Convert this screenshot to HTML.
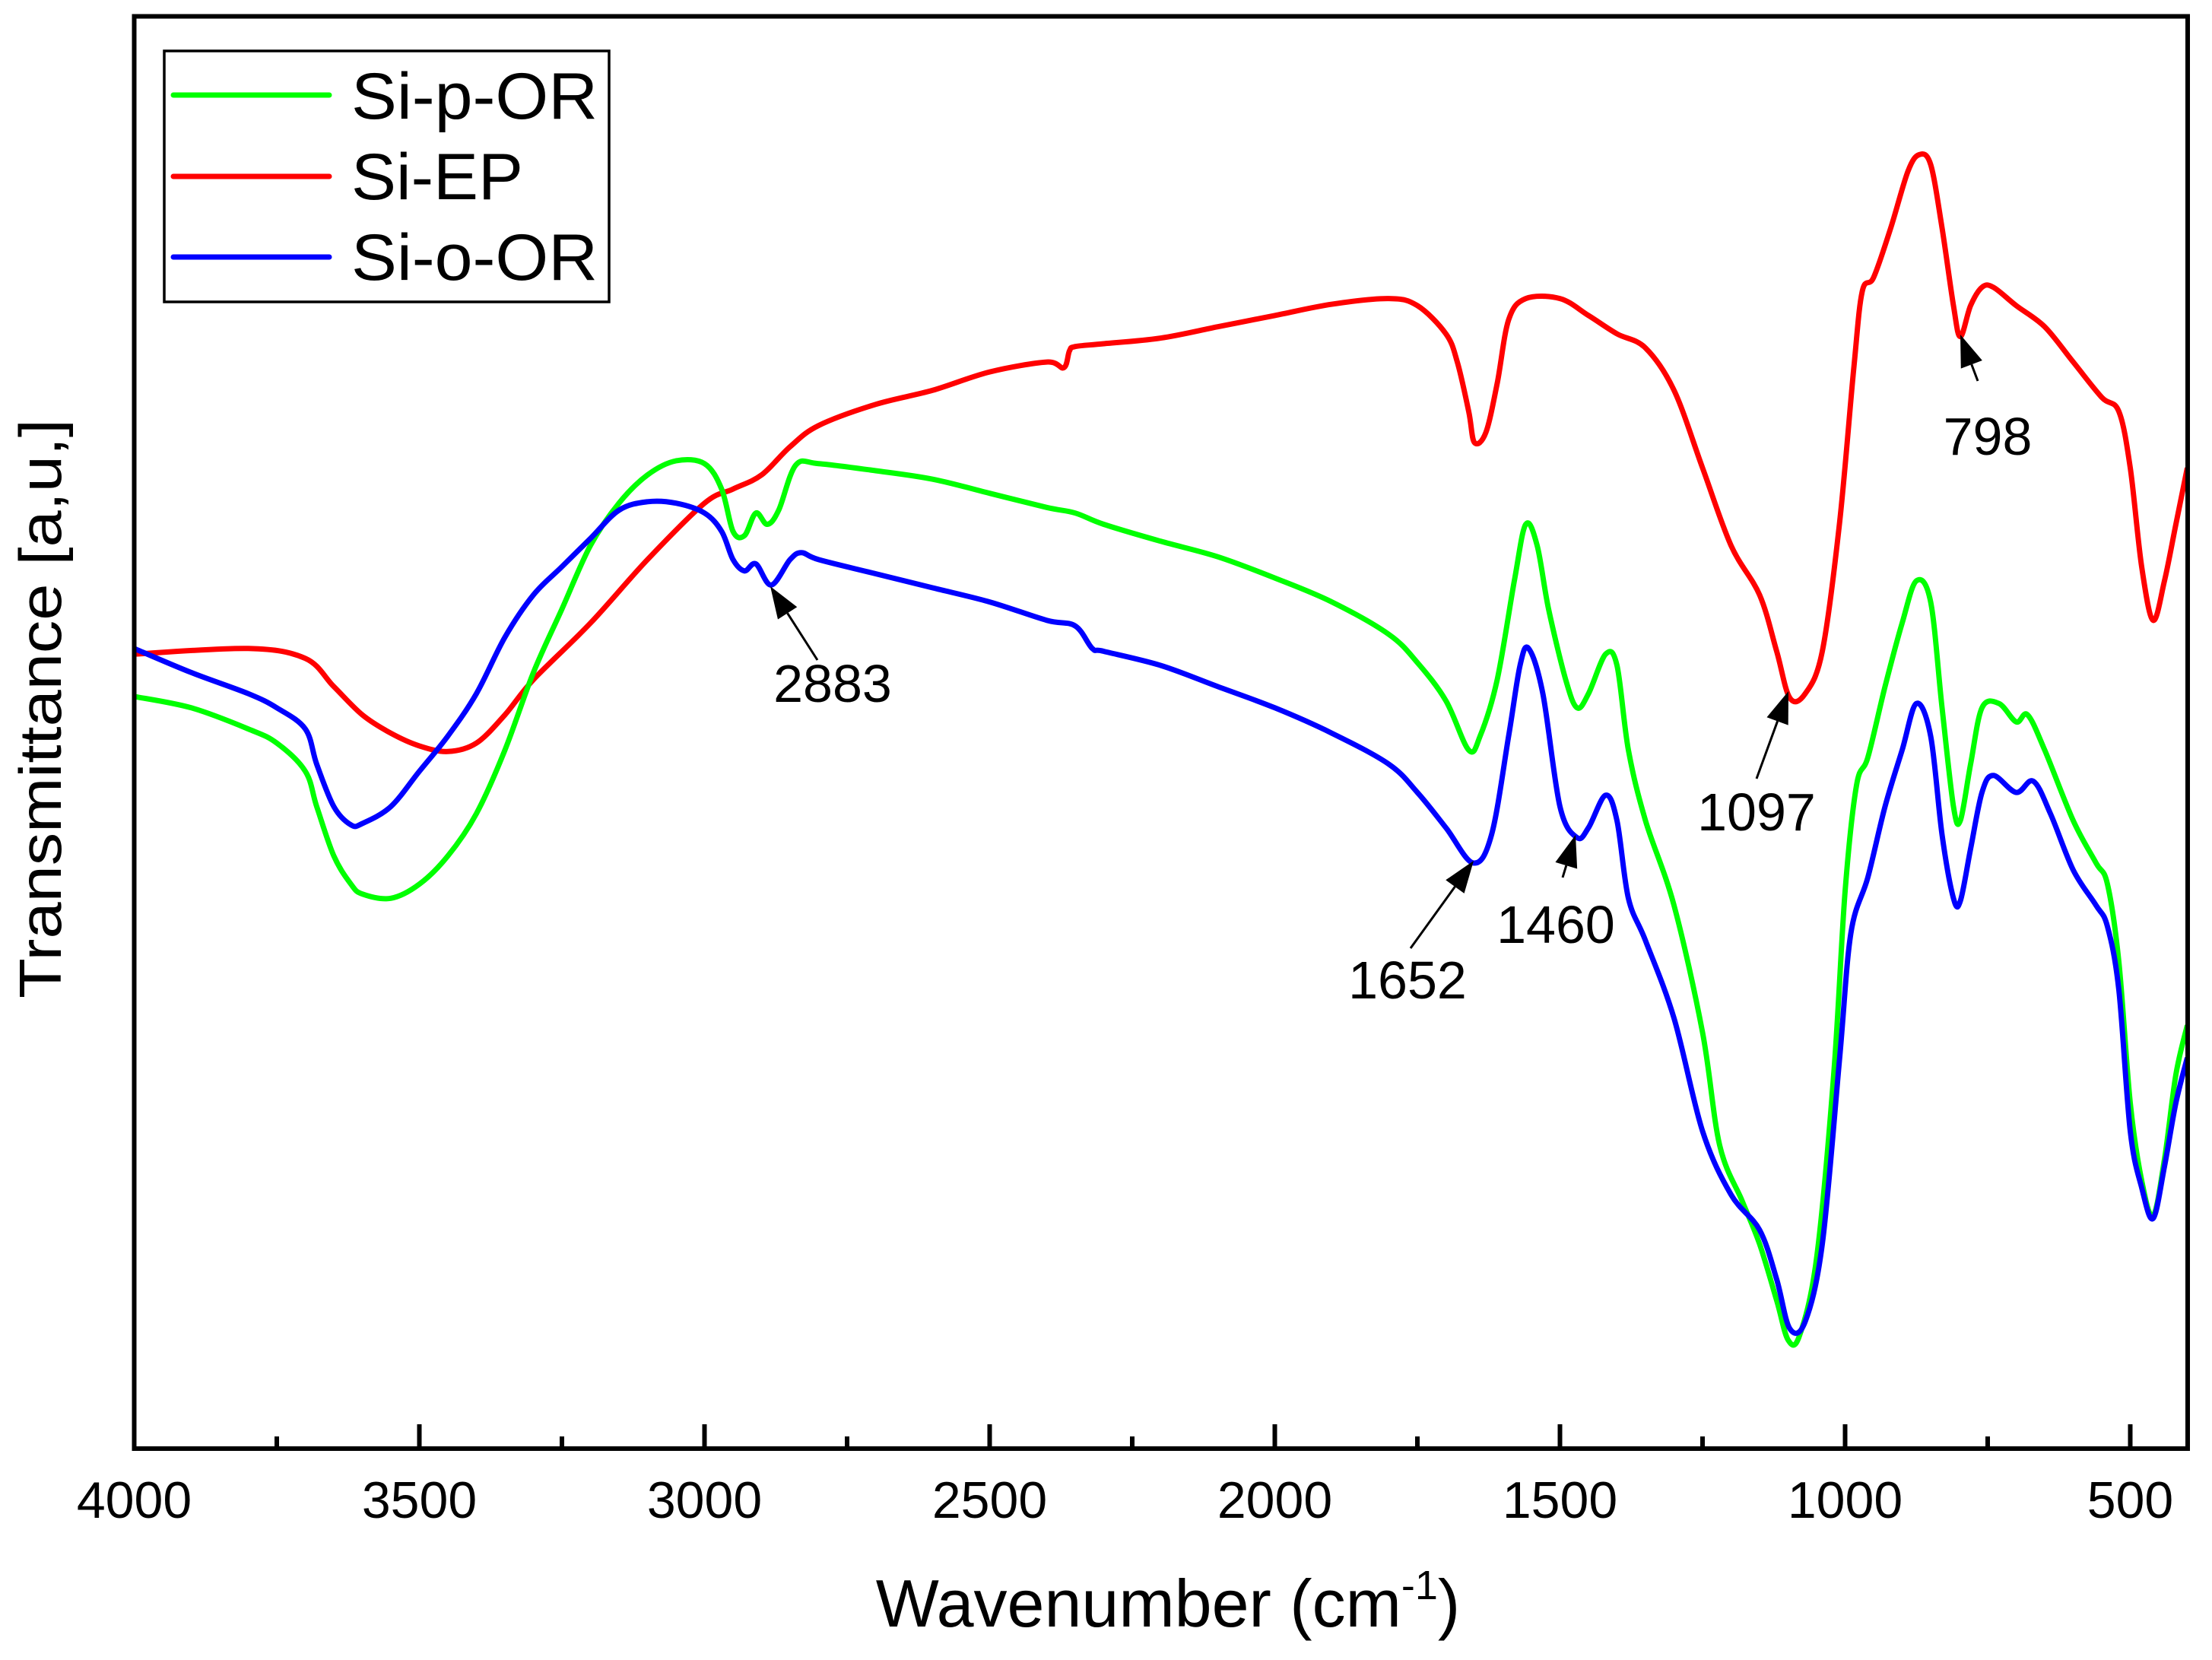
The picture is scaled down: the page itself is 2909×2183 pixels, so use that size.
<!DOCTYPE html>
<html><head><meta charset="utf-8"><style>
html,body{margin:0;padding:0;background:#fff}
svg{display:block}
text{font-family:"Liberation Sans",Arial,sans-serif;fill:#000}
</style></head><body>
<svg id="chart" width="2909" height="2183" viewBox="0 0 2909 2183" xmlns="http://www.w3.org/2000/svg">
<rect x="0" y="0" width="2909" height="2183" fill="#fff"/>
<g id="series"></g>
<g id="annot"></g>
<rect x="176.5" y="21.5" width="2700.5" height="1883.5" fill="none" stroke="#000" stroke-width="6"/>
<g id="ticks"></g>
<text transform="translate(80,932) rotate(-90)" text-anchor="middle" font-size="78" textLength="762" lengthAdjust="spacingAndGlyphs">Transmittance [a,u,]</text>
<text x="1536" y="2139" text-anchor="middle" font-size="88">Wavenumber (cm<tspan font-size="54" dy="-36">-1</tspan><tspan dy="36">)</tspan></text>
<g>
<rect x="216" y="67" width="585" height="330" fill="#fff" stroke="#000" stroke-width="3.5"/>
<line x1="228" y1="125" x2="433" y2="125" stroke="#00ff00" stroke-width="7" stroke-linecap="round"/>
<text x="462" y="156" font-size="86" textLength="324" lengthAdjust="spacingAndGlyphs">Si-p-OR</text>
<line x1="228" y1="232" x2="433" y2="232" stroke="#ff0000" stroke-width="7" stroke-linecap="round"/>
<text x="462" y="262" font-size="86" textLength="226" lengthAdjust="spacingAndGlyphs">Si-EP</text>
<line x1="228" y1="338" x2="433" y2="338" stroke="#0000ff" stroke-width="7" stroke-linecap="round"/>
<text x="462" y="368" font-size="86" textLength="324" lengthAdjust="spacingAndGlyphs">Si-o-OR</text>
</g>
</svg>
<script>
const wnEP=[4000,3800,3700,3650,3600,3550,3500,3450,3400,3350,3300,3200,3100,3000,2950,2900,2850,2800,2700,2600,2500,2400,2370,2360,2350,2300,2200,2100,2000,1900,1800,1750,1700,1680,1660,1650,1630,1610,1590,1560,1500,1450,1400,1350,1300,1250,1200,1150,1120,1097,1070,1040,1010,985,970,950,920,890,870,850,830,810,798,780,760,740,700,650,600,550,520,500,480,460,440,420,400];
const tEP=[56.3,56.7,56.0,54.0,52.0,50.7,49.8,49.4,50.0,52.0,54.5,58.5,63.0,67.0,68.0,69.0,71.0,72.5,74.0,75.0,76.3,77.0,76.6,77.8,78.1,78.3,78.7,79.5,80.3,81.1,81.5,81.0,79.0,77.0,73.5,71.3,72.0,75.5,80.0,81.5,81.5,80.3,79.0,78.0,75.0,69.5,64.0,60.5,56.5,53.2,53.5,56.5,65.5,76.5,82.0,83.0,86.5,90.5,91.7,91.0,86.5,81.0,78.8,81.0,82.3,82.3,81.0,79.5,77.0,74.5,73.5,69.5,62.5,58.7,61.5,65.5,69.5];
const wnP=[4000,3900,3800,3750,3700,3680,3650,3620,3600,3550,3500,3450,3400,3350,3300,3250,3200,3150,3100,3050,3000,2970,2950,2930,2910,2890,2870,2840,2800,2700,2600,2500,2400,2350,2300,2200,2100,2000,1900,1800,1750,1700,1660,1640,1610,1580,1560,1540,1520,1490,1470,1450,1420,1400,1380,1350,1300,1250,1220,1180,1150,1120,1100,1080,1050,1020,1000,980,960,930,900,875,850,830,810,798,780,760,730,700,680,650,600,560,540,520,500,480,460,440,420,400];
const tP=[53.3,52.5,51.0,50.0,48.0,45.5,42.0,40.0,39.3,39.0,40.0,42.0,45.0,49.5,55.0,59.5,64.0,67.0,69.0,70.0,69.8,68.0,65.0,64.7,66.3,65.5,66.5,69.7,69.8,69.3,68.7,67.7,66.7,66.3,65.5,64.3,63.2,61.7,60.0,57.7,55.7,53.0,49.5,50.5,54.5,61.5,65.5,64.0,59.5,54.5,52.5,53.5,56.3,55.5,49.5,44.5,38.5,29.5,21.5,17.5,14.5,10.5,7.7,8.0,13.5,26.5,39.5,47.0,49.0,54.0,58.5,61.5,60.0,52.5,45.5,44.5,48.5,52.5,52.8,51.5,52.0,49.5,44.5,41.5,40.0,34.5,24.5,19.0,16.5,20.5,26.5,30.0];
const wnO=[4000,3900,3800,3750,3700,3680,3650,3620,3600,3550,3500,3450,3400,3350,3300,3250,3200,3150,3100,3050,3000,2970,2950,2930,2910,2883,2850,2830,2800,2700,2600,2500,2400,2350,2320,2300,2200,2100,2000,1900,1800,1750,1700,1652,1620,1590,1570,1555,1530,1500,1470,1450,1420,1400,1380,1350,1300,1250,1200,1150,1120,1097,1070,1040,1010,990,960,930,900,875,850,830,810,798,780,760,740,700,670,640,600,560,540,520,500,480,460,440,420,400];
const tO=[56.7,55.0,53.5,52.5,51.0,48.5,45.5,44.2,44.3,45.5,48.0,50.5,53.5,57.5,60.5,62.5,64.5,66.5,67.1,67.0,66.3,65.0,63.0,62.2,62.7,61.2,63.0,63.5,63.0,62.0,61.0,60.0,58.7,58.3,56.7,56.5,55.5,54.0,52.5,50.7,48.5,46.5,44.0,41.5,43.5,50.5,55.5,56.7,53.5,45.5,43.3,44.0,46.3,44.5,39.0,36.0,30.5,22.5,18.0,15.5,12.0,8.5,9.0,14.5,27.5,36.5,40.5,45.5,49.5,52.8,50.5,43.5,39.0,38.8,42.5,46.5,47.7,46.5,47.3,45.0,41.0,38.5,37.0,32.5,22.5,18.5,16.3,20.0,24.5,27.7];
const xTicks=[4000,3500,3000,2500,2000,1500,1000,500];
const xTickLabels=["4000","3500","3000","2500","2000","1500","1000","500"];
const peakWn=[2883,1652,1460,1097,798];
const peakLabels=["2883","1652","1460","1097","798"];

const NS="http://www.w3.org/2000/svg";
function sx(w){return 176.5+(4000-w)*0.75;}
function sy(t){return 1905-t*(1883.5/101.5);}
function mk(tag,attrs,parent){const e=document.createElementNS(NS,tag);for(const k in attrs)e.setAttribute(k,attrs[k]);parent.appendChild(e);return e;}
function smoothPath(ws,ts){
  const p=ws.map((w,i)=>[sx(w),sy(ts[i])]);
  let d="M"+p[0][0].toFixed(1)+","+p[0][1].toFixed(1);
  for(let i=0;i<p.length-1;i++){
    const p0=p[Math.max(0,i-1)],p1=p[i],p2=p[i+1],p3=p[Math.min(p.length-1,i+2)];
    const c1=[p1[0]+(p2[0]-p0[0])/6,p1[1]+(p2[1]-p0[1])/6];
    const c2=[p2[0]-(p3[0]-p1[0])/6,p2[1]-(p3[1]-p1[1])/6];
    d+="C"+c1[0].toFixed(1)+","+c1[1].toFixed(1)+" "+c2[0].toFixed(1)+","+c2[1].toFixed(1)+" "+p2[0].toFixed(1)+","+p2[1].toFixed(1);
  }
  return d;
}
const sg=document.getElementById('series');
const sEP=mk('path',{d:smoothPath(wnEP,tEP),fill:'none',stroke:'#ff0000','stroke-width':7,'stroke-linejoin':'round'},sg);


const sP=mk('path',{d:smoothPath(wnP,tP),fill:'none',stroke:'#00ff00','stroke-width':7,'stroke-linejoin':'round'},sg);


const sO=mk('path',{d:smoothPath(wnO,tO),fill:'none',stroke:'#0000ff','stroke-width':7,'stroke-linejoin':'round'},sg);



const tg=document.getElementById('ticks');
xTicks.forEach((w,i)=>{
  const t=mk('line',{x1:sx(w),x2:sx(w),y1:1905,y2:1873,stroke:'#000','stroke-width':6},tg);
  
  
  const m=mk('line',{x1:sx(w-250),x2:sx(w-250),y1:1905,y2:1889,stroke:'#000','stroke-width':6},tg);
  
  
  const l=mk('text',{x:sx(w),y:1996,'text-anchor':'middle','font-size':68},tg);
  l.textContent=xTickLabels[i];
  
  
});

const ag=document.getElementById('annot');
const ann=[
 {tip:[1013,771],tail:[1075,868],lx:1095,ly:923},
 {tip:[1938,1132],tail:[1855,1247],lx:1851,ly:1313},
 {tip:[2072,1098],tail:[2055,1154],lx:2046,ly:1240},
 {tip:[2352,909],tail:[2310,1024],lx:2310,ly:1092},
 {tip:[2578,440],tail:[2601,501],lx:2614,ly:598}
];
ann.forEach((a,i)=>{
  const dx=a.tip[0]-a.tail[0],dy=a.tip[1]-a.tail[1],L=Math.hypot(dx,dy),ux=dx/L,uy=dy/L;
  const hl=42,hw=15;
  const bx=a.tip[0]-ux*hl,by=a.tip[1]-uy*hl;
  const ln=mk('line',{x1:a.tail[0],y1:a.tail[1],x2:bx,y2:by,stroke:'#000','stroke-width':3},ag);
  
  
  const hd=mk('polygon',{points:`${a.tip[0]},${a.tip[1]} ${bx-uy*hw},${by+ux*hw} ${bx+uy*hw},${by-ux*hw}`,fill:'#000'},ag);
  
  
  const tx=mk('text',{x:a.lx,y:a.ly,'text-anchor':'middle','font-size':70},ag);
  tx.textContent=peakLabels[i];
  
  
});
</script>
</body></html>
